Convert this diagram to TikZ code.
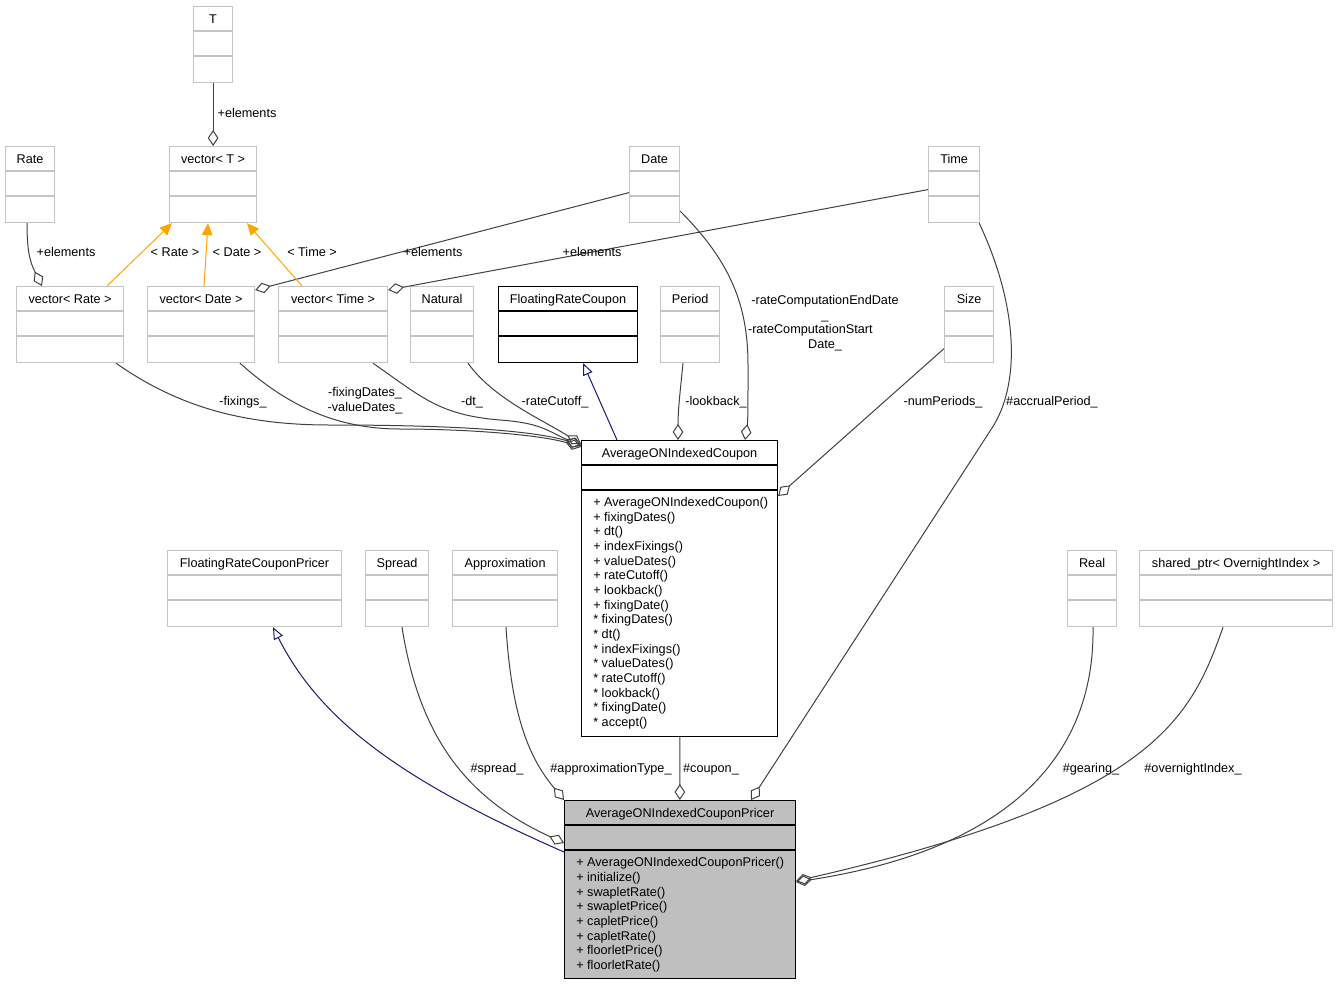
\documentclass[tikz,border=0pt]{standalone}
\usepackage{fontspec}
\setmainfont{Liberation Sans}
\usepackage{tikz}
\usetikzlibrary{arrows.meta, calc}
\definecolor{BoxGray}{HTML}{C4C4C4}
\definecolor{EdgeGray}{HTML}{404040}
\definecolor{MainFill}{HTML}{BFBFBF}
\definecolor{TmplOrange}{HTML}{FFA500}
\definecolor{InheritBlue}{HTML}{191970}
% class box: style, name, x, y, width, height, title
\newcommand{\umlclass}[7]{%
  \node[#1, minimum width=#5*0.75pt, minimum height=#6*0.75pt, anchor=north west] (#2) at (#3,#4) {};
  \draw[#1] ($(#2.north west)+(0,25)$) -- ($(#2.north east)+(0,25)$);
  \draw[#1] ($(#2.north west)+(0,50)$) -- ($(#2.north east)+(0,50)$);
  \node[title] at ($(#2.north)+(0,17)$) {#7};
}

\begin{document}
\begin{tikzpicture}[
    x=0.75pt, y=-0.75pt,
    font=\fontsize{9.5pt}{11pt}\selectfont,
    grayclass/.style={draw=BoxGray, fill=white, line width=0.9pt, inner sep=0pt},
    blackclass/.style={draw=black, fill=white, line width=0.8pt, inner sep=0pt},
    mainclass/.style={draw=black, fill=MainFill, line width=0.8pt, inner sep=0pt},
    title/.style={anchor=base, inner sep=0pt},
    members/.style={anchor=base west, align=left, inner sep=0pt},
    lbl/.style={anchor=base, align=center, inner sep=0pt},
    agg/.style={draw=EdgeGray, line width=0.75pt, -{Diamond[open, length=12pt, width=8pt]}},
    tmpl/.style={draw=TmplOrange, line width=0.75pt, -{Triangle[length=9pt, width=8pt]}},
    inherit/.style={draw=InheritBlue, line width=0.75pt, -{Triangle[open, length=9pt, width=7.5pt]}}
]
\useasboundingbox (0,0) rectangle (1337,985);

% top row
\umlclass{grayclass}{T}{193}{6}{39}{76}{T}
\umlclass{grayclass}{rate}{5}{146}{49}{76}{Rate}
\umlclass{grayclass}{vecT}{169}{146}{87}{76}{vector< T >}
\umlclass{grayclass}{date}{629}{146}{50}{76}{Date}
\umlclass{grayclass}{time}{928}{146}{51}{76}{Time}

% second row
\umlclass{grayclass}{vrate}{16}{286}{107}{76}{vector< Rate >}
\umlclass{grayclass}{vdate}{147}{286}{107}{76}{vector< Date >}
\umlclass{grayclass}{vtime}{278}{286}{109}{76}{vector< Time >}
\umlclass{grayclass}{natural}{410}{286}{63}{76}{Natural}
\umlclass{blackclass}{frc}{498}{286}{139}{76}{FloatingRateCoupon}
\umlclass{grayclass}{period}{660}{286}{59}{76}{Period}
\umlclass{grayclass}{size}{944}{286}{49}{76}{Size}

% coupon
\umlclass{blackclass}{aonic}{581}{440}{196}{296}{AverageONIndexedCoupon}
\node[members] (aonicops) at ($(aonic.north west)+(12,286.5)$) {+ AverageONIndexedCoupon()\\+ fixingDates()\\+ dt()\\+ indexFixings()\\+ valueDates()\\+ rateCutoff()\\+ lookback()\\+ fixingDate()\\* fixingDates()\\* dt()\\* indexFixings()\\* valueDates()\\* rateCutoff()\\* lookback()\\* fixingDate()\\* accept()};

% third row
\umlclass{grayclass}{frcp}{167}{550}{174}{76}{FloatingRateCouponPricer}
\umlclass{grayclass}{spread}{365}{550}{63}{76}{Spread}
\umlclass{grayclass}{approx}{452}{550}{105}{76}{Approximation}
\umlclass{grayclass}{real}{1067}{550}{49}{76}{Real}
\umlclass{grayclass}{sptr}{1139}{550}{193}{76}{shared\_ptr< OvernightIndex >}

% pricer
\umlclass{mainclass}{pricer}{564}{800}{231}{178}{AverageONIndexedCouponPricer}
\node[members] (pricerops) at ($(pricer.north west)+(12,169.5)$) {+ AverageONIndexedCouponPricer()\\+ initialize()\\+ swapletRate()\\+ swapletPrice()\\+ capletPrice()\\+ capletRate()\\+ floorletPrice()\\+ floorletRate()};

% element types
\draw[agg] (T) -- (vecT);
\node[lbl] (lT) at (247,117) {+elements};
\draw[agg] ($(rate.south west)+(22,0)$) .. controls +(0,28) and +(-12,-24) .. ($(vrate.north west)+(26,0)$);
\node[lbl] (lrate) at (66,256) {+elements};
\draw[agg] ($(date.west)+(0,8)$) -- ($(vdate.north east)+(0,4)$);
\node[lbl] (ldate) at (433,256) {+elements};
\draw[agg] ($(time.west)+(0,5)$) -- ($(vtime.north east)+(0,4)$);
\node[lbl] (ltime) at (592,256) {+elements};

% template instances
\draw[tmpl] ($(vrate.north west)+(91,0)$) -- ($(vecT.south west)+(3,0)$);
\node[lbl] (lvrate) at (175,256) {< Rate >};
\draw[tmpl] ($(vdate.north west)+(57,0)$) -- ($(vecT.south west)+(39,0)$);
\node[lbl] (lvdate) at (237,256) {< Date >};
\draw[tmpl] ($(vtime.north west)+(24,0)$) -- ($(vecT.south west)+(78,0)$);
\node[lbl] (lvtime) at (312,256) {< Time >};

% members of the coupon
\draw[agg] ($(vrate.south west)+(100,0)$) .. controls +(60,42) and +(-90,0) .. (330,425) .. controls +(150,0) and +(-40,-12) .. ($(aonic.north west)+(0,5)$);
\node[lbl] (lfix) at (243,405) {-fixings\_};
\draw[agg] ($(vdate.south west)+(93,0)$) .. controls +(50,45) and +(-60,0) .. (400,429) .. controls +(70,0) and +(-40,-12) .. ($(aonic.north west)+(0,7)$);
\node[lbl] (lfixd) at (365,411.5) {-fixingDates\_\\-valueDates\_};
\draw[agg] ($(vtime.south west)+(95,0)$) .. controls +(50,35) and +(-60,-5) .. (500,420) .. controls +(40,3) and +(-35,-16) .. ($(aonic.north west)+(0,6)$);
\node[lbl] (ldt) at (472,405) {-dt\_};
\draw[agg] ($(natural.south west)+(58,0)$) .. controls +(25,35) and +(-40,-25) .. ($(aonic.north west)+(0,4)$);
\node[lbl] (lcut) at (555,405) {-rateCutoff\_};
\draw[inherit] ($(aonic.north west)+(36,0)$) -- ($(frc.south west)+(85,0)$);
\draw[agg] ($(period.south west)+(23,0)$) .. controls +(-3,30) and +(0,-30) .. ($(aonic.north west)+(97,0)$);
\node[lbl] (llook) at (716,405) {-lookback\_};
\draw[agg] ($(date.south east)+(0,-12)$) .. controls +(50,50) and +(0,-60) .. (748,365) .. controls +(0,40) and +(3,-20) .. ($(aonic.north west)+(164,0)$);
\node[lbl] (lcomp) at (825,348.5) {-rateComputationEndDate\\\_\\\mbox{-rateComputationStart\hspace{22pt}}\\Date\_};
\draw[agg] ($(size.west)+(0,24)$) -- ($(aonic.north east)+(0,56)$);
\node[lbl] (lnum) at (943,405) {-numPeriods\_};

% members of the pricer
\draw[agg] ($(time.south east)+(-1,0)$) .. controls +(40,85) and +(28,-43) .. (992,428) -- ($(pricer.north west)+(187,0)$);
\node[lbl] (lacc) at (1052,405) {\#accrualPeriod\_};
\draw[inherit] ($(pricer.north west)+(0,52)$) .. controls +(-164,-72) and +(47,93) .. ($(frcp.south west)+(106,0)$);
\draw[agg] ($(spread.south west)+(37,0)$) .. controls +(18,114) and +(-94,-43) .. ($(pricer.north west)+(0,43)$);
\node[lbl] (lspread) at (497,772) {\#spread\_};
\draw[agg] ($(approx.south west)+(54,0)$) .. controls +(6,94) and +(-33,-40) .. (pricer.north west);
\node[lbl] (lapprox) at (611,772) {\#approximationType\_};
\draw[agg] (aonic) -- (pricer);
\node[lbl] (lcoupon) at (711,772) {\#coupon\_};
\draw[agg] ($(real.south west)+(26,0)$) .. controls +(2,134) and +(206,-32) .. ($(pricer.north east)+(0,82)$);
\node[lbl] (lgear) at (1091,772) {\#gearing\_};
\draw[agg] ($(sptr.south west)+(84,0)$) .. controls +(-33,94) and +(356,-82) .. ($(pricer.north east)+(0,81)$);
\node[lbl] (lindex) at (1193,772) {\#overnightIndex\_};

\end{tikzpicture}
\end{document}
